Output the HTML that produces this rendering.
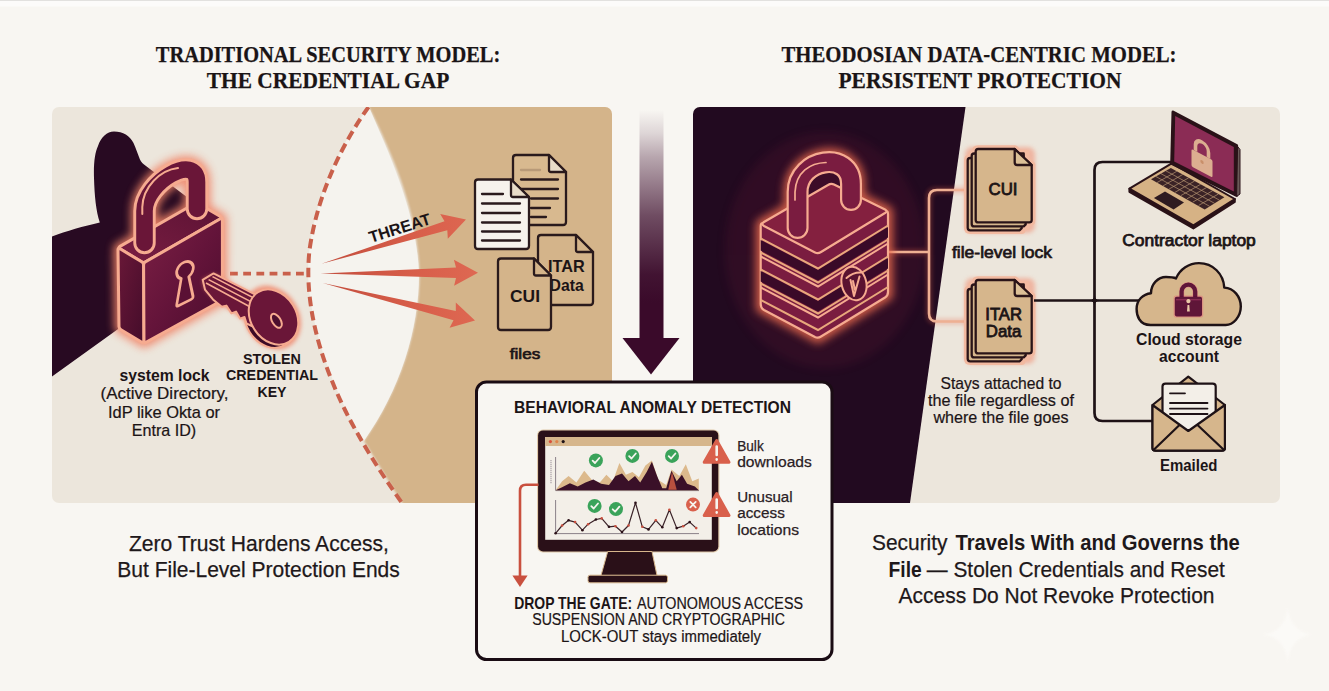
<!DOCTYPE html>
<html>
<head>
<meta charset="utf-8">
<title>Traditional Security Model vs Theodosian Data-Centric Model</title>
<style>
  html, body { margin: 0; padding: 0; background: #f8f6f2; }
  body { width: 1329px; height: 691px; overflow: hidden; font-family: "Liberation Sans", sans-serif; }
  svg { display: block; position: absolute; left: 0; top: 0; }
  .sans { font-family: "Liberation Sans", sans-serif; }
  .serif { font-family: "Liberation Serif", serif; }
  .b { font-weight: bold; }
  .mid { text-anchor: middle; }
  .dk { fill: #1c1416; }
  .m { stroke: #1c1416; stroke-width: 0.55px; }
  .r { stroke: #1c1416; stroke-width: 0.2px; }
</style>
</head>
<body>
<svg width="1329" height="691" viewBox="0 0 1329 691">
  <defs>
    <clipPath id="clipL"><rect x="52" y="107" width="560" height="396" rx="7" ry="7"/></clipPath>
    <clipPath id="clipR"><rect x="693" y="107" width="587" height="396" rx="7" ry="7"/></clipPath>
    <linearGradient id="gArrow" x1="0" y1="0" x2="0" y2="1">
      <stop offset="0" stop-color="#3a0a2a" stop-opacity="0"/>
      <stop offset="0.1" stop-color="#3a0a2a" stop-opacity="0.14"/>
      <stop offset="0.2" stop-color="#3a0a2a" stop-opacity="0.34"/>
      <stop offset="0.45" stop-color="#3a0a2a" stop-opacity="0.72"/>
      <stop offset="0.7" stop-color="#3a0a2a" stop-opacity="0.96"/>
      <stop offset="0.82" stop-color="#3a0a2a" stop-opacity="1"/>
    </linearGradient>
    <linearGradient id="gFront" x1="0" y1="0" x2="1" y2="1">
      <stop offset="0" stop-color="#7c2044"/><stop offset="0.5" stop-color="#64143a"/><stop offset="1" stop-color="#4a0c2c"/>
    </linearGradient>
    <linearGradient id="gSide" x1="0" y1="0" x2="1" y2="1">
      <stop offset="0" stop-color="#6a1838"/><stop offset="1" stop-color="#440c2a"/>
    </linearGradient>
    <linearGradient id="gTop" x1="0" y1="1" x2="1" y2="0">
      <stop offset="0" stop-color="#7a1e42"/><stop offset="1" stop-color="#5c1234"/>
    </linearGradient>
    <g id="stack">
      <g fill="none" stroke="#f2b9a0" stroke-width="7.5" stroke-linejoin="round">
        <path d="M-5.5,9 L46,9 L46,81.3 L-5.5,81.3 Q-8,81.3 -8,78.8 L-8,11.5 Q-8,9 -5.5,9 Z"/>
        <path d="M2.5,0 L39,0 L56,16 L56,71 Q56,73.4 53.5,73.4 L2.5,73.4 Q0,73.4 0,71 L0,2.5 Q0,0 2.5,0 Z"/>
        <path d="M-1.5,4.5 L50,4.5 L50,77.4 L-1.5,77.4 Q-4,77.4 -4,74.9 L-4,7 Q-4,4.5 -1.5,4.5 Z"/>
      </g>
      <g fill="#d6b68c" stroke="#2a1418" stroke-width="2.3" stroke-linejoin="round">
        <path d="M-5.5,9 L44,9 L46,79.3 L44,81.3 L-5.5,81.3 Q-8,81.3 -8,78.8 L-8,11.5 Q-8,9 -5.5,9 Z"/>
        <path d="M-1.5,4.5 L48,4.5 L50,75.4 L48,77.4 L-1.5,77.4 Q-4,77.4 -4,74.9 L-4,7 Q-4,4.5 -1.5,4.5 Z"/>
        <path d="M2.5,0 L39,0 L56,16 L56,71 Q56,73.4 53.5,73.4 L2.5,73.4 Q0,73.4 0,71 L0,2.5 Q0,0 2.5,0 Z"/>
        <path d="M39,0 L39,13.5 Q39,16 41.5,16 L56,16 Z" fill="#dcc097"/>
      </g>
    </g>
    <filter id="glow" x="-30%" y="-30%" width="160%" height="160%">
      <feGaussianBlur stdDeviation="4"/>
    </filter>
    <filter id="glow2" x="-30%" y="-30%" width="160%" height="160%">
      <feGaussianBlur stdDeviation="2"/>
    </filter>
    <linearGradient id="gThreat" gradientUnits="userSpaceOnUse" x1="320" y1="0" x2="478" y2="0"><stop offset="0" stop-color="#c24c3c"/><stop offset="0.6" stop-color="#d85e4a"/><stop offset="1" stop-color="#de6852"/></linearGradient>
    <filter id="blur1" x="-10%" y="-10%" width="120%" height="120%"><feGaussianBlur stdDeviation="1.1"/></filter>
    <filter id="soft" x="-10%" y="-10%" width="120%" height="120%">
      <feGaussianBlur stdDeviation="0.6"/>
    </filter>
  </defs>

  <!-- page background -->
  <rect x="0" y="0" width="1329" height="691" fill="#f8f6f2"/>
  <rect x="0" y="0" width="1329" height="6.5" fill="#fcfbfa"/>
  <rect x="0" y="0" width="1329" height="1" fill="#e2e1df"/>

  <!-- ===================== LEFT PANEL ===================== -->
  <g id="left-panel" clip-path="url(#clipL)">
    <rect x="52" y="107" width="560" height="396" fill="#ece6dc"/>
    <!-- tan region -->
    <path d="M356,80 L369,107 C394,158 418,213 419.5,274 C419.5,330 400,390 364,441 L402,503 L420,530 L640,530 L640,80 Z" fill="#d4b48a" filter="url(#blur1)"/>
    <!-- white lens -->
    <path d="M369,107 C392,160 417,215 419,274 C419,330 400,390 364,441 C335,395 310,330 308,274 C308,215 335,150 369,107 Z" fill="#f5f3ee"/>

    <!-- dark hand silhouette -->
    <path d="M52,236.4 C66,231 84,226 99.8,222.4 C96,211 94.5,196 94,178 C93.5,163 95,152 98,146 C101,137 107,131.8 114,131.6 C123,131.6 130,136 133.5,143 C136,148.5 137.5,153.5 139,157 C140,160 141.5,162.5 144,164.5 L200,207 L222,300 L144,343 L119.5,328 L52,376.5 Z" fill="#280a22"/>
    <!-- horizontal dashed line -->
    <line x1="230" y1="273.6" x2="308" y2="273.6" stroke="#c9604b" stroke-width="3.6" stroke-dasharray="7.8 5.4"/>
    <!-- dashed arc -->
    <path d="M368.5,107 C345,140 318,190 309.5,250 C304,300 318,355 345,410 C360,440 380,472 402,503" fill="none" stroke="#c9604b" stroke-width="4" stroke-dasharray="9.5 5"/>

    <!-- threat arrows -->
    <g fill="url(#gThreat)">
      <path d="M321.5,263.8 L444.5,221.2 L440.2,213.9 L466.0,219.6 L447.8,238.8 L447.3,230.3 Z"/>
      <path d="M320.5,273.6 L456.0,267.6 L453.9,259.8 L478.0,272.7 L454.1,285.8 L456.0,278.1 Z"/>
      <path d="M322.8,283.0 L455.8,311.0 L455.8,302.5 L475.0,320.6 L449.6,327.7 L453.5,320.2 Z"/>
    </g>
    <text x="0" y="0" transform="translate(401.4,233.4) rotate(-17.5)" class="sans b mid dk" font-size="16.2" textLength="64" lengthAdjust="spacingAndGlyphs">THREAT</text>

    <!-- LOCK (left) -->
    <g id="lockL">
      <!-- glow -->
      <g filter="url(#glow)" opacity="0.9">
        <path d="M118,247.6 L196,203 L222.4,217.6 L222.4,300 L144,343.5 L119,328.5 Z" fill="#f08468" stroke="#f08468" stroke-width="9" stroke-linejoin="round"/>
        <path d="M144.5,243 L144.5,211 C144.5,182 197,152 197,182 L197,209" fill="none" stroke="#f08468" stroke-width="27" stroke-linecap="round"/>
      </g>
      <!-- shackle back part (behind body) -->
      <!-- body faces -->
      <path d="M120,246.4 L194.5,203.7 Q196.5,202.6 198.5,203.7 L220.4,216.4 Q222.4,217.6 220.4,218.8 L145.6,261.8 Q143.6,263 141.6,261.8 L120,248.8 Q118,247.6 120,246.4 Z" fill="url(#gTop)" stroke="#f6ab90" stroke-width="3" stroke-linejoin="round"/>
      <path d="M118,249.6 Q118,247.6 120,248.8 L141.6,261.8 Q143.6,263 143.6,265 L144,340.5 Q144,343.5 141.8,342.2 L121,329.7 Q119,328.5 119,326.5 Z" fill="url(#gSide)" stroke="#f6ab90" stroke-width="3" stroke-linejoin="round"/>
      <path d="M143.6,265 Q143.6,263 145.6,261.8 L220.4,218.8 Q222.4,217.6 222.4,219.6 L222.4,297.5 Q222.4,300 220.4,301.2 L146,342.4 Q144,343.5 144,341.5 Z" fill="url(#gFront)" stroke="#f6ab90" stroke-width="3" stroke-linejoin="round"/>
      <!-- shackle -->
      <path d="M144.5,243 L144.5,211 C144.5,182 197,152 197,182 L197,209" fill="none" stroke="#f6ab90" stroke-width="22.4" stroke-linecap="round"/>
      <path d="M144.5,243 L144.5,211 C144.5,182 197,152 197,182 L197,209" fill="none" stroke="#6a1638" stroke-width="16.6" stroke-linecap="round"/>
      <path d="M142.3,214 L142.3,207 C143,187 160,170 178,168" fill="none" stroke="#f6ab90" stroke-width="2" stroke-linecap="round"/>
      <!-- keyhole -->
      <g transform="matrix(1,-0.3,0,1,185,270.2)">
        <path d="M-3.8,7.4 A8.3,8.3 0 1 1 3.8,7.4 L8,28.5 Q8.2,30.5 6.4,30.9 L-6.8,33.6 Q-8.6,33.8 -8.2,31.6 Z" fill="#5a1034" stroke="#f6ab90" stroke-width="2.8" stroke-linejoin="round"/>
      </g>
    </g>

    <!-- KEY -->
    <g id="key">
      <g filter="url(#glow2)" opacity="0.8">
        <path d="M202.7,279.8 L214,274 L256,295 L250,325 L214,299 L204.5,288 Z" fill="#f08468"/>
        <ellipse cx="272" cy="317.5" rx="24.5" ry="31" transform="rotate(-32 272 317.5)" fill="#f08468" stroke="#f08468" stroke-width="5"/>
      </g>
      <ellipse cx="269.6" cy="319.8" rx="23.4" ry="29.6" transform="rotate(-32 269.6 319.8)" fill="#3c0a26" stroke="#f6ab90" stroke-width="2"/>
      <path d="M202.7,279.8 L213.5,273.4 L258,296 L254,327 L246.5,323.5 L244.5,317 L240,318.6 L236,311.6 L231.4,313.4 L226.4,305.6 L221.8,306.8 L213,299.4 L205,289.6 Z" fill="#6a1638" stroke="#f6ab90" stroke-width="2" stroke-linejoin="round"/>
      <path d="M206,283 L254,309 M208.6,279.6 L256,304.4 M212.5,276.6 L257.5,300" fill="none" stroke="#f6ab90" stroke-width="1.6"/>
      <ellipse cx="273.5" cy="317" rx="22.8" ry="29.2" transform="rotate(-32 273.5 317)" fill="#6a1638" stroke="#f6ab90" stroke-width="2"/>
      <ellipse cx="276.4" cy="320.8" rx="4.2" ry="7.8" transform="rotate(-32 276.4 320.8)" fill="#4c0e2e" stroke="#f6ab90" stroke-width="2"/>
    </g>
  </g>

  <g id="left-overlay">
    <!-- FILES -->
    <g id="filesL" stroke="#2a1a1c" stroke-width="2.3" stroke-linejoin="round" stroke-linecap="round">
      <!-- back tan file -->
      <path d="M516,155 L549,155 L566,172 L566,222 Q566,225 563,225 L516,225 Q513,225 513,222 L513,158 Q513,155 516,155 Z" fill="#d8b98f"/>
      <path d="M549,155 L549,170 Q549,172 551,172 L566,172 Z" fill="#e9dcc8"/>
      <path d="M521,170 L540,170" stroke="#b89a78" fill="none"/>
      <path d="M521,179.5 L558,179.5 M521,189 L558,189 M531,198.5 L558,198.5 M531,208 L550,208 M531,217 L546,217" fill="none"/>
      <!-- front white file -->
      <path d="M478,179.5 L511,179.5 L529,197 L529,246 Q529,249 526,249 L478,249 Q475,249 475,246 L475,182.5 Q475,179.5 478,179.5 Z" fill="#f6f2ec"/>
      <path d="M511,179.5 L511,195 Q511,197 513,197 L529,197 Z" fill="#e9dcc8"/>
      <path d="M482,194 L503,194 M482,203.5 L520,203.5 M482,213 L520,213 M482,222.5 L520,222.5 M482,231.5 L520,231.5 M482,240.5 L520,240.5" fill="none"/>
      <!-- ITAR file -->
      <path d="M541,235 L576,235 L593,252 L593,302 Q593,305 590,305 L541,305 Q538,305 538,302 L538,238 Q538,235 541,235 Z" fill="#d4b48a"/>
      <path d="M576,235 L576,250 Q576,252 578,252 L593,252 Z" fill="#d4b48a"/>
    </g>
    <text x="566.4" y="272" class="sans b mid dk" font-size="15.9" textLength="36.7" lengthAdjust="spacingAndGlyphs">ITAR</text>
    <text x="566.6" y="291" class="sans b mid dk" font-size="15.9" textLength="34.2" lengthAdjust="spacingAndGlyphs">Data</text>
    <g stroke="#2a1a1c" stroke-width="2.3" stroke-linejoin="round" stroke-linecap="round">
      <!-- CUI file -->
      <path d="M501,258.5 L534,258.5 L551,275.5 L551,327 Q551,330 548,330 L501,330 Q498,330 498,327 L498,261.5 Q498,258.5 501,258.5 Z" fill="#d4b48a"/>
      <path d="M534,258.5 L534,273.5 Q534,275.5 536,275.5 L551,275.5 Z" fill="#d4b48a"/>
    </g>
    <text x="525" y="301.5" class="sans b mid dk" font-size="16.6" textLength="30" lengthAdjust="spacingAndGlyphs">CUI</text>
    <text x="525" y="359.2" class="sans m mid dk" style="stroke-width:0.7px" font-size="15.5" textLength="30.5" lengthAdjust="spacingAndGlyphs">files</text>

    <!-- labels -->
    <text x="164.5" y="380.5" class="sans b mid dk" font-size="16.2" textLength="90" lengthAdjust="spacingAndGlyphs">system lock</text>
    <text x="164.5" y="399.2" class="sans mid dk r" font-size="16.2" textLength="128" lengthAdjust="spacingAndGlyphs">(Active Directory,</text>
    <text x="164" y="417.6" class="sans mid dk r" font-size="16.2" textLength="112" lengthAdjust="spacingAndGlyphs">IdP like Okta or</text>
    <text x="164" y="436" class="sans mid dk r" font-size="16.2" textLength="64.5" lengthAdjust="spacingAndGlyphs">Entra ID)</text>
    <text x="272" y="363.5" class="sans b mid dk" font-size="15.2" textLength="58" lengthAdjust="spacingAndGlyphs">STOLEN</text>
    <text x="272" y="380" class="sans b mid dk" font-size="15.2" textLength="92" lengthAdjust="spacingAndGlyphs">CREDENTIAL</text>
    <text x="272" y="396.5" class="sans b mid dk" font-size="15.2" textLength="29" lengthAdjust="spacingAndGlyphs">KEY</text>
  </g>

  <!-- ===================== RIGHT PANEL ===================== -->
  <g id="right-panel" clip-path="url(#clipR)">
    <rect x="693" y="107" width="587" height="396" fill="#ece6dc"/>
    <path d="M693,107 L965.5,107 L910,503 L693,503 Z" fill="#220a20"/>

    <!-- soft glow on dark -->
    <ellipse cx="825" cy="250" rx="100" ry="118" fill="#5a1230" opacity="0.26" filter="url(#glow)"/>
    <!-- bracket lines (peach) -->
    <g fill="none" stroke="#e8694e" stroke-width="6" filter="url(#glow2)" opacity="0.3">
      <path d="M888,252 L929,252"/>
      <path d="M968,190 L937,190 Q929,190 929,198 L929,313.5 Q929,321.5 937,321.5 L968,321.5"/>
    </g>
    <g fill="none" stroke="#eeb093" stroke-width="2.6">
      <path d="M888,252 L929,252"/>
      <path d="M968,190 L937,190 Q929,190 929,198 L929,313.5 Q929,321.5 937,321.5 L968,321.5"/>
    </g>
    <!-- LOCK (right) -->
    <g id="lockR">
      <g filter="url(#glow)" opacity="0.85">
        <path d="M760.7,224 L831,183 L888,211 L888,295.5 L818,338.5 L760.7,308 Z" fill="#e8694e" stroke="#e8694e" stroke-width="10" stroke-linejoin="round"/>
        <path d="M797.6,228 L797.6,192 C797.6,158 851,150 851,184 L851,200" fill="none" stroke="#e8694e" stroke-width="28" stroke-linecap="round"/>
      </g>
      <!-- body side faces -->
      <path d="M760.7,226 Q760.7,222 764,224 L815,251.5 Q818,253 821,251.5 L885,212 Q888,210 888,214 L888,292 Q888,295.5 885,297.5 L821,336.5 Q818,338.5 815,337 L764,310 Q760.7,308 760.7,304 Z" fill="#7a1c40" stroke="#f6ab90" stroke-width="2.2" stroke-linejoin="round"/>
      <!-- dark bands -->
      <path d="M760.7,240 L818,270 L888,227 L888,237.5 L818,280.5 L760.7,250.5 Z" fill="#3a0a28"/>
      <path d="M760.7,271 L818,301 L888,258 L888,268.5 L818,311.5 L760.7,281.5 Z" fill="#3a0a28"/>
      <!-- tan lines -->
      <g fill="none" stroke="#e9a87c" stroke-width="2">
        <path d="M760.7,238.5 L818,268.5 L888,225.5"/>
        <path d="M760.7,252.5 L818,282.5 L888,239.5"/>
        <path d="M760.7,256.5 L818,286.5 L888,243.5" stroke="#f6ab90"/>
        <path d="M760.7,269.5 L818,299.5 L888,256.5"/>
        <path d="M760.7,283.5 L818,313.5 L888,270.5"/>
        <path d="M760.7,287.5 L818,317.5 L888,274.5" stroke="#f6ab90"/>
        <path d="M760.7,300 L818,330 L888,287"/>
      </g>
      <path d="M797.6,225 L797.6,192 C797.6,158 851,150 851,184 L851,205 Z" fill="#3c0c28"/>
      <!-- top face -->
      <path d="M764,222 L828,185 Q831,183 834,184.5 L885,209.5 Q888,211 885,213 L821,252 Q818,254 815,252.5 L764,226 Q760.7,224 764,222 Z" fill="#84203f" stroke="#f6ab90" stroke-width="2.2" stroke-linejoin="round"/>
      <!-- shackle -->
      <path d="M797.6,228 L797.6,192 C797.6,158 851,150 851,184 L851,200" fill="none" stroke="#f6ab90" stroke-width="22" stroke-linecap="round"/>
      <path d="M797.6,228 L797.6,192 C797.6,158 851,150 851,184 L851,200" fill="none" stroke="#7a1c40" stroke-width="17.6" stroke-linecap="round"/>
      <path d="M795,200 L795,192 C796,172 810,163 826,162.5" fill="none" stroke="#f6ab90" stroke-width="1.7" stroke-linecap="round"/>
      <!-- emblem -->
      <ellipse cx="854" cy="283.5" rx="12.3" ry="17" transform="rotate(-14 854 283.5)" fill="#5a1230" stroke="#f6ab90" stroke-width="2"/>
      <path d="M846.5,278 Q853,272 861.5,272.5 M850.5,280 L854,296 L859.5,276.5 M853,281 L855,290" fill="none" stroke="#f6ab90" stroke-width="2" stroke-linecap="round" stroke-linejoin="round"/>
    </g>
  </g>

  <g id="right-overlay">
    <!-- stacked files -->
    <g filter="url(#glow2)" opacity="0.7">
      <rect x="965" y="147" width="70" height="86" rx="7" fill="#f0a088"/>
      <rect x="965" y="278" width="70" height="86" rx="7" fill="#f0a088"/>
    </g>
    <use href="#stack" x="975.7" y="149"/>
    <use href="#stack" x="975.7" y="280"/>
    <text x="1003" y="195.4" class="sans m mid dk" style="stroke-width:0.8px" font-size="16.5" textLength="29" lengthAdjust="spacingAndGlyphs">CUI</text>
    <text x="1003.6" y="320" class="sans m mid dk" style="stroke-width:0.8px" font-size="16.6" textLength="36.7" lengthAdjust="spacingAndGlyphs">ITAR</text>
    <text x="1003.6" y="336.8" class="sans m mid dk" style="stroke-width:0.8px" font-size="16.6" textLength="35.5" lengthAdjust="spacingAndGlyphs">Data</text>

    <text x="1002" y="257.5" class="sans m mid dk" style="stroke-width:0.7px" font-size="16.0" textLength="100" lengthAdjust="spacingAndGlyphs">file-level lock</text>
    <text x="1001" y="389" class="sans mid dk r" font-size="15.7" textLength="121" lengthAdjust="spacingAndGlyphs">Stays attached to</text>
    <text x="1001" y="406" class="sans mid dk r" font-size="15.7" textLength="146" lengthAdjust="spacingAndGlyphs">the file regardless of</text>
    <text x="1001" y="423" class="sans mid dk r" font-size="15.7" textLength="135" lengthAdjust="spacingAndGlyphs">where the file goes</text>

    <!-- tree lines -->
    <g fill="none" stroke="#1e1216" stroke-width="2.7" stroke-linejoin="round">
      <path d="M1034,300.5 L1139,300.5"/>
      <path d="M1172,162 L1102.5,162 Q1094.5,162 1094.5,170 L1094.5,413 Q1094.5,421 1102.5,421 L1153,421"/>
      <path d="M1089.5,300.5 Q1094.5,300.5 1094.5,295.5 Q1094.5,300.5 1099.5,300.5 Q1094.5,300.5 1094.5,305.5 Q1094.5,300.5 1089.5,300.5 Z" fill="#1e1216" stroke-width="1"/>
    </g>

    <!-- LAPTOP -->
    <g id="laptop" stroke-linejoin="round">
      <path d="M1129.4,188.7 L1129.4,191.8 L1193.4,228.4 L1234.8,202 L1234.8,199 Z" fill="#2a1218" stroke="#2a1218" stroke-width="2"/>
      <path d="M1129.4,188.7 L1171.7,163.3 L1234.8,199 L1193.4,225.4 Z" fill="#d6b285" stroke="#2a1218" stroke-width="2"/>
      <path d="M1151,179.3 L1170.8,168 L1224.4,197.2 L1204.7,209.4 Z" fill="#3a2226"/>
      <g stroke="#d6b285" stroke-width="0.7" fill="none" opacity="0.8">
        <path d="M1155.9,176.5 L1209.6,206.3 M1160.9,173.6 L1214.5,203.3 M1165.8,170.8 L1219.5,200.2"/>
        <path d="M1157,182.6 L1176.8,171.3 M1163,185.9 L1182.7,174.5 M1169,189.1 L1188.7,177.8 M1174.9,192.4 L1194.6,181 M1180.9,195.6 L1200.6,184.3 M1186.8,198.9 L1206.5,187.5 M1192.8,202.1 L1212.5,190.8 M1198.7,205.4 L1218.4,194"/>
      </g>
      <path d="M1153.9,198 L1165,191.5 L1184,202.5 L1173.6,209.4 Z" fill="#2e1a20"/>
      <path d="M1171.7,163.3 L1173,112 L1236.6,145.5 L1236.6,195.3 Z" fill="#2a1218" stroke="#2a1218" stroke-width="3"/>
      <path d="M1174.2,161.6 L1175.2,116 L1233.8,147 L1233.8,191.5 Z" fill="#8b2c55"/>
      <path d="M1237.6,146.5 L1240,149.5 L1240,194 L1236.6,196.5 Z" fill="#6a5a58" stroke="#2a1218" stroke-width="1"/>
      <!-- lock on screen -->
      <g transform="matrix(1,0.53,0,1,1202,163.5)">
        <path d="M-6.5,-9 L-6.5,-15 A6.5,6.5 0 0 1 6.5,-15 L6.5,-9" fill="none" stroke="#dcae90" stroke-width="3.6"/>
        <rect x="-10.5" y="-9" width="21" height="17.5" rx="1.5" fill="#dcae90"/>
        <circle cx="0" cy="-1.5" r="1.7" fill="#c98f6a"/>
      </g>
    </g>
    <text x="1189" y="245.5" class="sans m mid dk" style="stroke-width:0.75px" font-size="16.0" textLength="133.5" lengthAdjust="spacingAndGlyphs">Contractor laptop</text>

    <!-- CLOUD -->
    <g id="cloud">
      <path d="M1150.5,325 C1139,325 1136.6,315 1136.6,309 C1136.6,300 1143,294 1151,293.2 C1151,284 1158,277 1166,277 C1170,277 1173.5,277.2 1176,278.4 C1180,269 1189,263.1 1199,263.1 C1213,263.1 1223.5,274 1224.3,287.6 C1234,288 1240.8,297 1240.8,306.5 C1240.8,317 1233,325 1225.7,325 Z" fill="#d6b68c" stroke="#1e1216" stroke-width="2.4" stroke-linejoin="round"/>
      <g filter="url(#soft)">
        <path d="M1181.6,298 L1181.6,291.5 A6.8,6.8 0 0 1 1195.2,291.5 L1195.2,298" fill="none" stroke="#e07a7a" stroke-width="5.4" opacity="0.6"/>
        <rect x="1173.6" y="295.6" width="29.6" height="22" rx="2.5" fill="#e07a7a" opacity="0.6"/>
        <path d="M1181.6,298 L1181.6,291.5 A6.8,6.8 0 0 1 1195.2,291.5 L1195.2,298" fill="none" stroke="#5e1238" stroke-width="4.2"/>
        <rect x="1174.8" y="296.8" width="27.2" height="19.6" rx="1.8" fill="#5e1238"/>
        <path d="M1176,299.8 L1201,299.8" stroke="#9a3a5e" stroke-width="1"/>
        <path d="M1188.4,303.2 a2.1,2.1 0 1 1 0.01,0 M1187.5,305 L1189.3,305 L1189.8,311.5 L1187,311.5 Z" fill="#e9c9a6"/>
      </g>
    </g>
    <text x="1189" y="345" class="sans b mid dk" font-size="16.0" textLength="106" lengthAdjust="spacingAndGlyphs">Cloud storage</text>
    <text x="1189" y="362.3" class="sans b mid dk" font-size="16.0" textLength="60" lengthAdjust="spacingAndGlyphs">account</text>

    <!-- ENVELOPE -->
    <g id="envelope" stroke="#1e1216" stroke-width="2.2" stroke-linejoin="round" stroke-linecap="round">
      <path d="M1152.5,405 L1188.3,376.6 L1224.9,405 L1224.9,448 Q1224.9,450.7 1222,450.7 L1155.5,450.7 Q1152.5,450.7 1152.5,448 Z" fill="#d6b68c"/>
      <path d="M1165.5,383.6 L1212.7,383.6 Q1215.7,383.6 1215.7,386.6 L1215.7,430 L1162.5,430 L1162.5,386.6 Q1162.5,383.6 1165.5,383.6 Z" fill="#f3efe8"/>
      <path d="M1170,393.3 L1185,393.3 M1170,403 L1207.5,403 M1170,408.6 L1207.5,408.6 M1170,414 L1207.5,414" fill="none" stroke-width="1.8"/>
      <path d="M1152.5,405 L1188.3,431 L1224.9,405 L1224.9,448 Q1224.9,450.7 1222,450.7 L1155.5,450.7 Q1152.5,450.7 1152.5,448 Z" fill="#d6b68c"/>
      <path d="M1153.5,450 L1179.5,425 M1224,450 L1197.5,425" fill="none"/>
    </g>
    <text x="1188.7" y="470.7" class="sans b mid dk" font-size="15.9" textLength="57.5" lengthAdjust="spacingAndGlyphs">Emailed</text>
  </g>

  <!-- ===================== CENTER ARROW ===================== -->
  <g id="center-arrow">
    <rect x="639.5" y="110" width="24" height="235" fill="url(#gArrow)"/>
    <path d="M622.5,338 L679.5,338 L651,374.5 Z" fill="#3a0a2a"/>
  </g>

  <!-- ===================== INSET BOX ===================== -->
  <g id="inset">
    <rect x="476.5" y="382" width="355.5" height="277.6" rx="10" ry="10" fill="#f8f6f2" stroke="#1a0c14" stroke-width="3"/>

    <text x="652.5" y="412.9" class="sans b mid dk" font-size="17.2" textLength="277" lengthAdjust="spacingAndGlyphs">BEHAVIORAL ANOMALY DETECTION</text>
    <!-- monitor -->
    <rect x="537" y="429.4" width="182.4" height="123.2" rx="6" fill="#d6b68c" opacity="0.7"/>
    <rect x="538.1" y="430.4" width="180.2" height="121.1" rx="5" fill="#2a1018"/>
    <rect x="545.2" y="437" width="166.6" height="102.8" fill="#f3efe8"/>
    <rect x="545.2" y="437" width="166.6" height="9" fill="#d6b68c"/>
    <circle cx="550.4" cy="441.6" r="1.6" fill="#d9503a"/><circle cx="556.8" cy="441.6" r="1.6" fill="#e0854c"/><circle cx="563.2" cy="441.6" r="1.6" fill="#1e1216"/>
    <path d="M607.7,551.5 L652,551.5 L657,575.5 L601,575.5 Z" fill="#2a1018" stroke="#d6b68c" stroke-width="1"/>
    <rect x="588" y="575.2" width="79.5" height="7.6" rx="2" fill="#2a1018" stroke="#d6b68c" stroke-width="1"/>
    <!-- charts -->
    <path d="M555.6,457 L555.6,490.6 L699,490.6" fill="none" stroke="#8a8088" stroke-width="1"/>
    <path d="M555.6,500 L555.6,533.6 L699,533.6" fill="none" stroke="#8a8088" stroke-width="1"/>
    <path d="M551,460 L551,484" stroke="#9a9098" stroke-width="1.4" stroke-dasharray="1.2 0.8" opacity="0.7"/>
    <path d="M555.6,490.3 L562.1,481.2 L568.6,476.0 L576.4,482.5 L584.2,470.8 L592.0,479.9 L599.8,482.5 L606.4,474.7 L612.9,481.2 L619.4,463.0 L625.9,474.7 L632.4,472.1 L638.9,477.3 L645.4,465.6 L651.9,460.4 L658.4,479.9 L666.2,485.1 L671.5,469.5 L679.3,476.0 L685.8,464.3 L692.3,481.2 L698.8,478.6 L698.8,490.3 Z" fill="#dcb98c"/>
    <path d="M555.6,490.3 L562.1,487.2 L569.9,483.3 L577.7,486.4 L585.5,482.5 L593.3,479.4 L601.1,483.8 L609.0,485.1 L615.5,476.0 L622.0,473.4 L628.5,481.2 L635.0,476.0 L640.2,482.5 L646.7,472.1 L651.9,461.7 L657.1,476.0 L662.3,488.2 L666.2,488.2 L671.5,470.8 L676.7,481.2 L681.9,474.7 L687.1,483.8 L694.9,486.4 L698.8,490.3 Z" fill="#3a1028"/>
    <path d="M668.3,489.8 L672.0,472.1 L676.7,489.8 Z" fill="#b9503f"/>
    <path d="M555.6,533.3 L562.1,525.5 L568.6,520.3 L575.1,522.1 L582.4,530.2 L588.1,524.2 L595.9,519.5 L601.7,518.4 L609.0,526.8 L615.5,526.2 L622.0,532.0 L628.5,525.5 L635.5,502.8 L642.3,526.8 L648.5,529.4 L655.8,520.3 L662.3,527.3 L669.4,509.8 L676.7,528.1 L683.2,526.2 L689.7,522.1 L696.2,528.1" fill="none" stroke="#3a2228" stroke-width="1.2" stroke-linejoin="round"/>
    <circle cx="555.6" cy="533.3" r="1.3" fill="#2a1018"/><circle cx="562.1" cy="525.5" r="1.3" fill="#c9503f"/><circle cx="568.6" cy="520.3" r="1.3" fill="#2a1018"/><circle cx="575.1" cy="522.1" r="1.3" fill="#c9503f"/><circle cx="582.4" cy="530.2" r="1.3" fill="#2a1018"/><circle cx="588.1" cy="524.2" r="1.3" fill="#c9503f"/><circle cx="595.9" cy="519.5" r="1.3" fill="#2a1018"/><circle cx="601.7" cy="518.4" r="1.3" fill="#c9503f"/><circle cx="609.0" cy="526.8" r="1.3" fill="#2a1018"/><circle cx="615.5" cy="526.2" r="1.3" fill="#c9503f"/><circle cx="622.0" cy="532.0" r="1.3" fill="#2a1018"/><circle cx="628.5" cy="525.5" r="1.3" fill="#c9503f"/><circle cx="635.5" cy="502.8" r="1.3" fill="#2a1018"/><circle cx="642.3" cy="526.8" r="1.3" fill="#c9503f"/><circle cx="648.5" cy="529.4" r="1.3" fill="#2a1018"/><circle cx="655.8" cy="520.3" r="1.3" fill="#c9503f"/><circle cx="662.3" cy="527.3" r="1.3" fill="#2a1018"/><circle cx="669.4" cy="509.8" r="1.3" fill="#c9503f"/><circle cx="676.7" cy="528.1" r="1.3" fill="#2a1018"/><circle cx="683.2" cy="526.2" r="1.3" fill="#c9503f"/><circle cx="689.7" cy="522.1" r="1.3" fill="#2a1018"/><circle cx="696.2" cy="528.1" r="1.3" fill="#c9503f"/>
    <circle cx="595.9" cy="460.4" r="7" fill="#3aa35a"/><path d="M592.6,460.6 L595.0,463.0 L599.3,458.0" fill="none" stroke="#f6f4ee" stroke-width="1.8" stroke-linecap="round" stroke-linejoin="round"/><circle cx="632.4" cy="455.9" r="7" fill="#3aa35a"/><path d="M629.1,456.1 L631.5,458.5 L635.8,453.5" fill="none" stroke="#f6f4ee" stroke-width="1.8" stroke-linecap="round" stroke-linejoin="round"/><circle cx="672.0" cy="455.9" r="7" fill="#3aa35a"/><path d="M668.7,456.1 L671.1,458.5 L675.4,453.5" fill="none" stroke="#f6f4ee" stroke-width="1.8" stroke-linecap="round" stroke-linejoin="round"/><circle cx="594.6" cy="505.9" r="7" fill="#3aa35a"/><path d="M591.3,506.1 L593.7,508.5 L598.0,503.5" fill="none" stroke="#f6f4ee" stroke-width="1.8" stroke-linecap="round" stroke-linejoin="round"/><circle cx="616.0" cy="509.1" r="7" fill="#3aa35a"/><path d="M612.7,509.3 L615.1,511.7 L619.4,506.7" fill="none" stroke="#f6f4ee" stroke-width="1.8" stroke-linecap="round" stroke-linejoin="round"/>
    <circle cx="693" cy="504.6" r="7" fill="#d9604c"/><path d="M690.3,501.9 L695.7,507.3 M695.7,501.9 L690.3,507.3" stroke="#f6f4ee" stroke-width="1.8" stroke-linecap="round"/>
    <!-- warnings -->
    <g fill="#d9604c" stroke="#d9604c" stroke-width="3" stroke-linejoin="round">
      <path d="M716.7,440.5 L729,462.2 L704.2,462.2 Z"/>
      <path d="M716.7,493.6 L729,515.4 L704.2,515.4 Z"/>
    </g>
    <g stroke="#f6f4ee" stroke-width="2.6" stroke-linecap="round">
      <path d="M716.7,446.5 L716.7,455 M716.7,459.4 L716.7,459.6"/>
      <path d="M716.7,499.6 L716.7,508 M716.7,512.4 L716.7,512.6"/>
    </g>
    <g class="sans" fill="#2a2024" font-size="15.5" stroke="#2a2024" stroke-width="0.25">
      <text x="737.2" y="450.6" textLength="26.5" lengthAdjust="spacingAndGlyphs">Bulk</text>
      <text x="737.2" y="467" textLength="74.6" lengthAdjust="spacingAndGlyphs">downloads</text>
      <text x="737.2" y="502.4" textLength="55.4" lengthAdjust="spacingAndGlyphs">Unusual</text>
      <text x="737.2" y="518.4" textLength="47.6" lengthAdjust="spacingAndGlyphs">access</text>
      <text x="737.2" y="534.8" textLength="61.8" lengthAdjust="spacingAndGlyphs">locations</text>
    </g>
    <!-- red arrow -->
    <path d="M538.5,484.8 L526,484.8 Q520,484.8 520,490.8 L520,577" fill="none" stroke="#c9503f" stroke-width="2.6"/>
    <path d="M512.4,575.6 L527.6,575.6 L520,587 Z" fill="#c9503f"/>
    <!-- drop the gate -->
    <text x="514.2" y="609.3" class="sans b dk" font-size="16.3" textLength="118" lengthAdjust="spacingAndGlyphs">DROP THE GATE:</text>
    <text x="637" y="609.3" class="sans dk r" font-size="16.3" textLength="166" lengthAdjust="spacingAndGlyphs">AUTONOMOUS ACCESS</text>
    <text x="658.6" y="625.3" class="sans mid dk r" font-size="16.3" textLength="252.8" lengthAdjust="spacingAndGlyphs">SUSPENSION AND CRYPTOGRAPHIC</text>
    <text x="661" y="641.8" class="sans mid dk r" font-size="16.3" textLength="200" lengthAdjust="spacingAndGlyphs">LOCK-OUT stays immediately</text>
  </g>

  <!-- ===================== TITLES & CAPTIONS ===================== -->
  <g id="titles" class="serif b mid" fill="#1a1416" font-size="23.4" stroke="#1a1416" stroke-width="0.25">
    <text x="328" y="62" textLength="344.5" lengthAdjust="spacingAndGlyphs">TRADITIONAL SECURITY MODEL:</text>
    <text x="328" y="88" textLength="242.5" lengthAdjust="spacingAndGlyphs">THE CREDENTIAL GAP</text>
    <text x="979" y="61.9" textLength="395" lengthAdjust="spacingAndGlyphs">THEODOSIAN DATA-CENTRIC MODEL:</text>
    <text x="980" y="87.7" textLength="283" lengthAdjust="spacingAndGlyphs">PERSISTENT PROTECTION</text>
  </g>
  <g id="captions" class="sans" fill="#1e181a" font-size="22.3" stroke="#1e181a" stroke-width="0.25">
    <text x="128.9" y="550.5" textLength="260" lengthAdjust="spacingAndGlyphs">Zero Trust Hardens Access,</text>
    <text x="117.3" y="577" textLength="282.5" lengthAdjust="spacingAndGlyphs">But File-Level Protection Ends</text>
    <text x="872" y="550.2" textLength="75.5" lengthAdjust="spacingAndGlyphs">Security</text>
    <text x="955.5" y="550.2" font-weight="bold" stroke-width="0" textLength="284.3" lengthAdjust="spacingAndGlyphs">Travels With and Governs the</text>
    <text x="888.6" y="576.7" font-weight="bold" stroke-width="0" textLength="33.2" lengthAdjust="spacingAndGlyphs">File</text>
    <text x="926.8" y="576.7" textLength="298" lengthAdjust="spacingAndGlyphs">— Stolen Credentials and Reset</text>
    <text x="898.5" y="602.9" textLength="316" lengthAdjust="spacingAndGlyphs">Access Do Not Revoke Protection</text>
  </g>
  <!-- sparkle watermark -->
  <path d="M1287.7,607.5 Q1290.5,631.5 1311.5,634.6 Q1290.5,637.5 1287.7,662 Q1285,637.5 1264,634.6 Q1285,631.5 1287.7,607.5 Z" fill="#fcfbf8" opacity="0.85" filter="url(#blur1)"/>
</svg>
</body>
</html>
